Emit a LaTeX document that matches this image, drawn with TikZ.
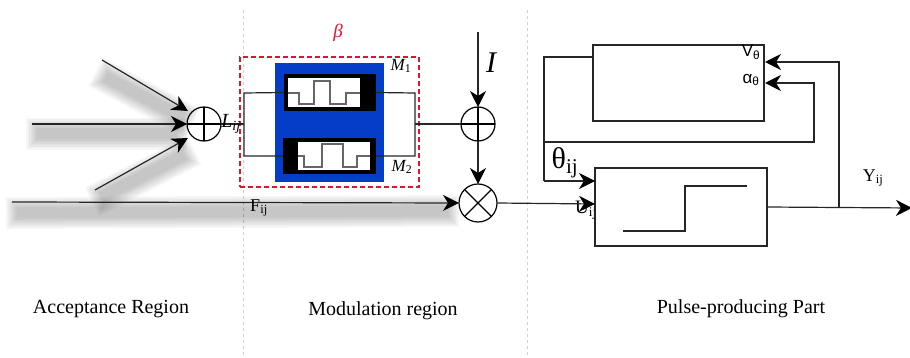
\documentclass[tikz,border=0pt]{standalone}
\usepackage{fontspec}
\setmainfont{Liberation Serif}
\newfontfamily\labelsans{Liberation Sans}
\usetikzlibrary{arrows.meta}
\definecolor{memblue}{RGB}{5,60,200}
\definecolor{betared}{RGB}{215,25,45}
\tikzset{
	wire/.style={draw=black!85, line width=1.2pt},
	arrowwire/.style={wire, -{Stealth[length=16pt,width=16pt,inset=5pt,black]}},
	softshadow/.style={draw=black, opacity=0.03},
	block/.style={draw=black!85, line width=1.2pt, minimum width=#1, inner sep=0pt, outer sep=0pt},
	sumcircle/.style={circle, draw, line width=1.2pt, minimum size=34pt, inner sep=0pt, outer sep=0pt,
		path picture={\draw [line width=1.2pt] (path picture bounding box.north) -- (path picture bounding box.south);
			\draw [line width=1.2pt] (path picture bounding box.west) -- (path picture bounding box.east);}},
	multcircle/.style={circle, draw, line width=1.2pt, minimum size=38pt, inner sep=0pt, outer sep=0pt,
		path picture={\draw [line width=1.2pt] (path picture bounding box.north west) -- (path picture bounding box.south east);
			\draw [line width=1.2pt] (path picture bounding box.north east) -- (path picture bounding box.south west);}},
	caption/.style={font=\fontsize{20}{22}\selectfont},
	regionline/.style={draw=black!18, dashed, line width=1pt}
}
\begin{document}
\begin{tikzpicture}[x=1pt, y=-1pt]
		\useasboundingbox (0,0) rectangle (910,358);
		
		% region borders
		\coordinate (div1top) at (243,10);
		\coordinate (div1bot) at (243,358);
		\coordinate (div2top) at (527,10);
		\coordinate (div2bot) at (527,358);
		\draw [regionline] (div1top) -- (div1bot);
		\draw [regionline] (div2top) -- (div2bot);
		
		% adders and multiplier
		\node [sumcircle] (sumL) at (204,124) {};
		\node [sumcircle] (sumI) at (478,124) {};
		\node [multcircle] (mult) at (478,203) {};
		
		% free ends of the inputs
		\coordinate (inA) at (102,60);
		\coordinate (inB) at (32,124);
		\coordinate (inC) at (95,190);
		\coordinate (inF) at (12,202);
		\coordinate (inI) at (478,32);
		\coordinate (endA) at (188,111);
		\coordinate (endC) at (188,138);
		
		% blurred bands
		\foreach \w in {32,29,26,23,20,17,14,11} {
			\tikzset{shorten <={(32-\w)*0.5pt}, shorten >={(32-\w)*0.5pt}}
			\draw [softshadow, line width=\w pt] ([xshift=-6pt,yshift=-12pt]inA) -- ([xshift=5pt,yshift=-12pt]endA);
			\draw [softshadow, line width=\w pt] ([xshift=-6pt,yshift=-10pt]inB) -- ([yshift=-10pt]sumL.west);
			\draw [softshadow, line width=\w pt] ([xshift=-3pt,yshift=-12pt]inC) -- ([xshift=6pt,yshift=-12pt]endC);
			\draw [softshadow, line width=\w pt] ([xshift=-6pt,yshift=-11pt]inF) -- ([yshift=-8pt]mult.west);
		}
		
		\draw [arrowwire] (inA) -- (endA);
		\draw [arrowwire] (inB) -- (sumL.west);
		\draw [arrowwire] (inC) -- (endC);
		\draw [arrowwire] (inF) -- (mult.west);
		
		% memristor pair
		\node [draw=betared, dash pattern=on 5pt off 3pt, line width=1.3pt, minimum width=179pt, minimum height=130pt, inner sep=0pt] (betabox) at (329.5,122) {};
		\node [fill=memblue, minimum width=109pt, minimum height=119pt, inner sep=0pt] (panel) at (329.5,122.5) {};
		\node [fill=black, minimum width=92pt, minimum height=37pt, inner sep=0pt, outer sep=0pt] (memA) at (330,92.5) {};
		\node [fill=black, minimum width=93pt, minimum height=36pt, inner sep=0pt, outer sep=0pt] (memB) at (329.5,156) {};
		\node [fill=white, minimum width=72pt, minimum height=29pt, inner sep=0pt] (memAin) at (324,92.5) {};
		\node [fill=white, minimum width=72pt, minimum height=28pt, inner sep=0pt] (memBin) at (334,156) {};
		\draw [wire, draw=black!60] (288,93) -- (299,93) -- (299,104) -- (314,104) -- (314,81) -- (330,81) -- (330,104) -- (346,104) -- (346,93) -- (360,93);
		\draw [wire, draw=black!60] (298,156) -- (304,156) -- (304,167) -- (322,167) -- (322,144) -- (343,144) -- (343,167) -- (357,167) -- (357,156) -- (370,156);
		
		% wires round the pair
		\coordinate (leftA) at (244,93);
		\coordinate (leftB) at (244,156);
		\coordinate (leftM) at (244,124);
		\coordinate (rightA) at (415,93);
		\coordinate (rightB) at (415,156);
		\coordinate (rightM) at (415,124);
		\draw [wire] (memA.west) -- (leftA) -- (leftB) -- (memB.west);
		\draw [wire] (memA.east) -- (rightA) -- (rightB) -- (memB.east);
		\draw [wire] (sumL.east) -- (leftM);
		\draw [wire] (rightM) -- (sumI.west);
		
		\draw [arrowwire] (inI) -- (sumI.north);
		\draw [arrowwire] (sumI.south) -- (mult.north);
		
		% pulse part
		\node [font=\fontsize{19}{19}\selectfont] (lU) at (586,210) {U\textsubscript{ij}};
		\node [block=171pt, minimum height=76pt] (decay) at (678.5,83) {};
		\node [block=172pt, minimum height=78pt] (thresh) at (681,207) {};
		\coordinate (fbTop) at (544,57);
		\coordinate (fbMid) at (544,142);
		\coordinate (fbBot) at (544,181);
		\coordinate (alphaOut) at (814,142);
		\coordinate (alphaUp) at (814,83);
		\coordinate (alphaEnd) at (765,83);
		\coordinate (outJoin) at (839,208);
		\coordinate (voltUp) at (839,62);
		\coordinate (voltEnd) at (765,62);
		\coordinate (outEnd) at (912,208);
		\draw [wire] (decay.west |- fbTop) -- (fbTop) -- (fbBot);
		\draw [arrowwire] (fbBot) -- (thresh.west |- fbBot);
		\draw [arrowwire] (fbMid) -- (alphaOut) -- (alphaUp) -- (alphaEnd);
		\draw [arrowwire] (outJoin) -- (voltUp) -- (voltEnd);
		\draw [arrowwire] (thresh.east) -- (outEnd);
		\draw [arrowwire] (mult.east) -- (thresh.west |- 0,204);
		\draw [wire] (623,231) -- (685,231) -- (685,186) -- (747,186);
		
		% labels
		\node [font=\fontsize{20}{20}\selectfont\itshape] (lLij) at (231,124) {L\textsubscript{ij}};
		\node [text=betared, font=\fontsize{19}{19}\selectfont\itshape] (lbeta) at (338,33) {β};
		\node [font=\fontsize{17}{17}\selectfont\itshape] (lMa) at (401,66) {M\textsubscript{\upshape 1}};
		\node [font=\fontsize{17}{17}\selectfont\itshape] (lMb) at (402,167) {M\textsubscript{\upshape 2}};
		\node [font=\fontsize{30}{30}\selectfont\itshape] (lI) at (491,63) {I};
		\node [font=\fontsize{18}{18}\selectfont] (lF) at (259,208) {F\textsubscript{ij}};
		\node [font=\fontsize{30}{30}\selectfont] (ltheta) at (565,163) {θ\textsubscript{ij}};
		\node [font=\labelsans\fontsize{17}{17}\selectfont] (lV) at (751,52) {V\textsubscript{θ}};
		\node [font=\labelsans\fontsize{17}{17}\selectfont] (lalpha) at (751,80) {α\textsubscript{θ}};
		\node [font=\fontsize{18}{18}\selectfont] (lY) at (873,178) {Y\textsubscript{ij}};
		\node [caption] (capA) at (111,309) {Acceptance Region};
		\node [caption] (capB) at (383,311) {Modulation region};
		\node [caption] (capC) at (741,309) {Pulse-producing Part};
\end{tikzpicture}
\end{document}
